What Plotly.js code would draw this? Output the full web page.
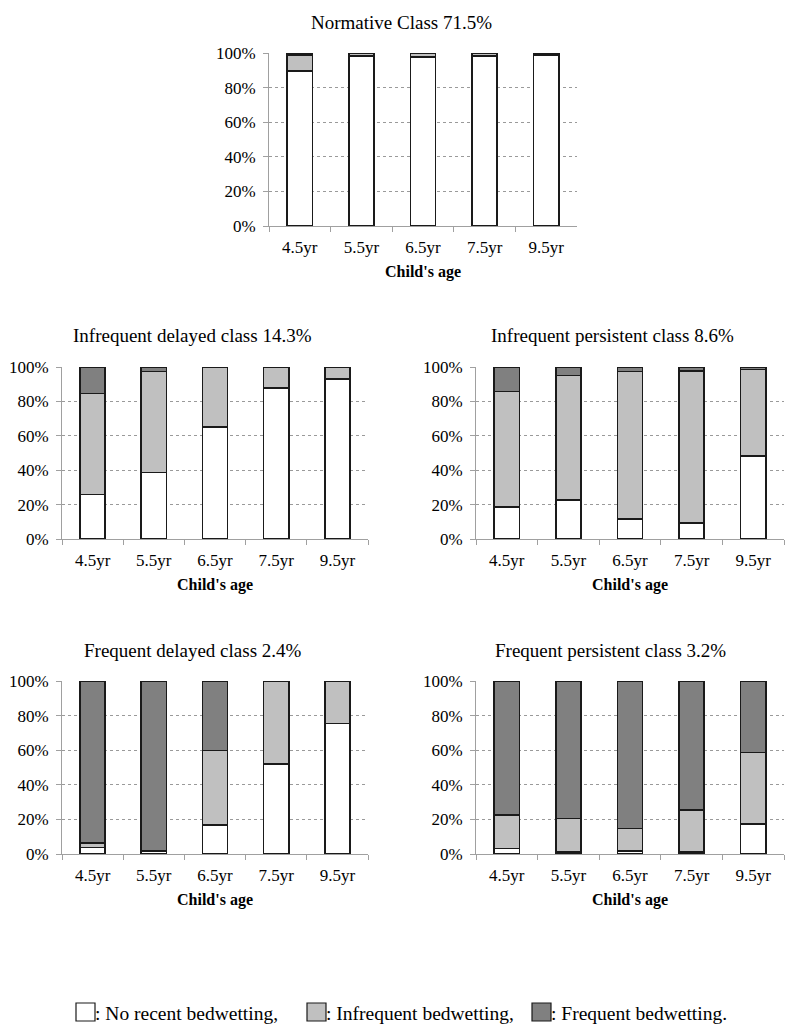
<!DOCTYPE html>
<html>
<head>
<meta charset="utf-8">
<script src="https://cdn.plot.ly/plotly-3.0.1.min.js"></script>
<style>html,body{margin:0;padding:0;background:#fff}#chart{width:800px;height:1034px}</style>
</head>
<body>
<div id="chart"></div>
<script>
// Categories
const ages = ['4.5yr', '5.5yr', '6.5yr', '7.5yr', '9.5yr'];

// Panel titles
const panelTitles = [
  'Normative Class 71.5%',
  'Infrequent delayed class 14.3%',
  'Infrequent persistent class 8.6%',
  'Frequent delayed class 2.4%',
  'Frequent persistent class 3.2%'
];

// Series names
const seriesNames = ['No recent bedwetting', 'Infrequent bedwetting', 'Frequent bedwetting'];
const legendLabels = [': No recent bedwetting,', ': Infrequent bedwetting,', ': Frequent bedwetting.'];

// Values (%), per class
const normativeNone     = [89.5, 98.4, 97.7, 98.3, 98.8];
const normativeInfreq   = [9.5, 1.3, 2.0, 1.4, 0.8];
const normativeFreq     = [1.0, 0.3, 0.3, 0.3, 0.4];

const infDelayedNone    = [25.8, 38.6, 65.0, 87.8, 93.2];
const infDelayedInfreq  = [58.7, 58.7, 35.0, 12.2, 6.8];
const infDelayedFreq    = [15.5, 2.7, 0, 0, 0];

const infPersistNone    = [18.6, 22.7, 11.6, 9.3, 48.4];
const infPersistInfreq  = [67.1, 72.3, 85.7, 88.4, 50.1];
const infPersistFreq    = [14.3, 5.0, 2.7, 2.3, 1.5];

const freqDelayedNone   = [3.7, 1.5, 16.8, 52.0, 75.5];
const freqDelayedInfreq = [2.8, 0.5, 43.1, 48.0, 24.5];
const freqDelayedFreq   = [93.5, 98.0, 40.1, 0, 0];

const freqPersistNone   = [3.1, 1.0, 1.7, 1.0, 17.2];
const freqPersistInfreq = [19.6, 19.6, 13.1, 24.6, 41.4];
const freqPersistFreq   = [77.3, 79.4, 85.2, 74.4, 41.4];

const yTicks = [0, 20, 40, 60, 80, 100];
const yTickText = ['0%', '20%', '40%', '60%', '80%', '100%'];
const xTitle = "Child's age";

// ---------- styling / layout ----------
const W = 800, H = 1034;
const colors = ['#ffffff', '#c0c0c0', '#808080'];
const FONT = '"Liberation Serif", "Times New Roman", serif';

const panelData = [
  [normativeNone, normativeInfreq, normativeFreq],
  [infDelayedNone, infDelayedInfreq, infDelayedFreq],
  [infPersistNone, infPersistInfreq, infPersistFreq],
  [freqDelayedNone, freqDelayedInfreq, freqDelayedFreq],
  [freqPersistNone, freqPersistInfreq, freqPersistFreq]
];

// pixel boxes: [x0, x1, yTop, yBottom]
const boxes = [
  [269, 577, 53, 226],
  [62, 368, 367, 539],
  [476, 784, 367, 539],
  [62, 368, 681, 854],
  [476, 784, 681, 854]
];
// title centres
const titlePos = [[402, 22], [192, 336], [612, 336], [193, 650], [610, 650]];

const traces = [];
const layout = {
  width: W, height: H,
  margin: {l: 0, r: 0, t: 0, b: 0},
  paper_bgcolor: '#fff', plot_bgcolor: 'rgba(0,0,0,0)',
  barmode: 'stack', bargap: 0.59,
  showlegend: false,
  font: {family: FONT, color: '#000', size: 17},
  annotations: [], shapes: []
};

boxes.forEach((b, i) => {
  const sfx = i === 0 ? '' : String(i + 1);
  const xa = 'x' + sfx, ya = 'y' + sfx;
  panelData[i].forEach((vals, s) => {
    traces.push({
      type: 'bar', x: ages, y: vals, name: seriesNames[s],
      xaxis: xa, yaxis: ya,
      marker: {color: colors[s], line: {color: '#1a1a1a', width: 1.6}},
      hoverinfo: 'skip'
    });
  });
  layout['xaxis' + sfx] = {
    domain: [b[0] / W, b[1] / W], anchor: ya,
    type: 'category', categoryorder: 'array', categoryarray: ages,
    showline: true, linecolor: '#a0a0a0', linewidth: 1,
    ticks: 'outside', tickson: 'boundaries', ticklen: 5, tickcolor: '#a0a0a0',
    showgrid: false, zeroline: false,
    tickfont: {family: FONT, size: 17, color: '#000'},
    ticklabelstandoff: 6,
    title: {text: '<b>' + xTitle + '</b>', font: {family: FONT, size: 16, color: '#000'}, standoff: 9},
    fixedrange: true
  };
  layout['yaxis' + sfx] = {
    domain: [1 - b[3] / H, 1 - b[2] / H], anchor: xa,
    range: [0, 100], tickvals: yTicks, ticktext: yTickText,
    showline: true, linecolor: '#a0a0a0', linewidth: 1,
    ticks: 'outside', ticklen: 5, tickcolor: '#a0a0a0',
    showgrid: true, gridcolor: '#9a9a9a', gridwidth: 1, griddash: 'dot',
    zeroline: false,
    tickfont: {family: FONT, size: 17, color: '#000'},
    ticklabelstandoff: 4,
    fixedrange: true
  };
  layout.annotations.push({
    xref: 'paper', yref: 'paper', x: titlePos[i][0] / W, y: 1 - titlePos[i][1] / H,
    xanchor: 'center', yanchor: 'middle', showarrow: false,
    text: panelTitles[i], font: {family: FONT, size: 19, color: '#000'}
  });
});

// legend at bottom
const legX = [76, 307, 532];
const legY = 1013;
legX.forEach((lx, s) => {
  layout.shapes.push({
    type: 'rect', xref: 'paper', yref: 'paper',
    x0: lx / W, x1: (lx + 19) / W, y0: 1 - (legY + 8) / H, y1: 1 - (legY - 10) / H,
    fillcolor: colors[s], line: {color: '#1a1a1a', width: 1.2}
  });
  layout.annotations.push({
    xref: 'paper', yref: 'paper', x: (lx + 19) / W, y: 1 - legY / H,
    xanchor: 'left', yanchor: 'middle', showarrow: false, xshift: -2,
    text: legendLabels[s], font: {family: FONT, size: 19.5, color: '#000'}
  });
});

Plotly.newPlot('chart', traces, layout, {displayModeBar: false, staticPlot: true});
</script>
</body>
</html>
